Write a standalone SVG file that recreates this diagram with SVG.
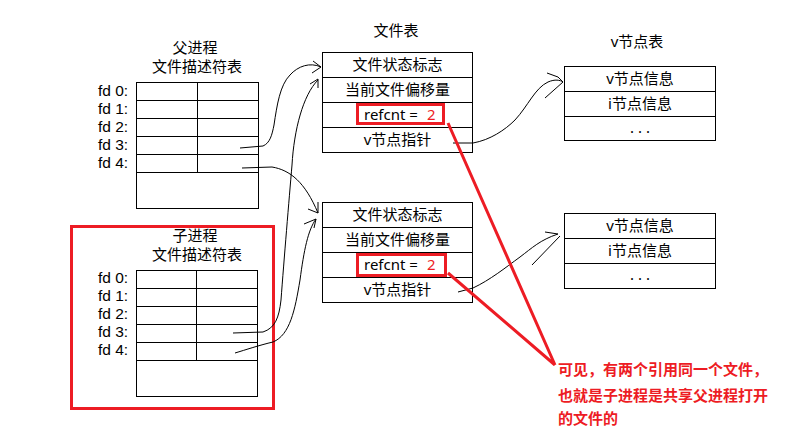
<svg xmlns="http://www.w3.org/2000/svg" width="787" height="442" viewBox="0 0 787 442">
<style>
.t{font-family:"Noto Sans","Noto Sans CJK SC",sans-serif;font-size:15px;fill:#000}
.c{text-anchor:middle}
.fd{font-family:"Liberation Sans",Arial,sans-serif;font-size:15.5px;fill:#000}
.box{fill:#fff;stroke:#000;stroke-width:1;shape-rendering:crispEdges}
.ln{stroke:#000;stroke-width:1;fill:none;shape-rendering:crispEdges}
.red{fill:none;stroke:#ED1C24;stroke-width:3}
.cv{fill:none;stroke:#000;stroke-width:1}
.rt{font-family:"Noto Sans CJK SC",sans-serif;font-size:15px;font-weight:bold;fill:#ED1C24}
</style>
<rect width="787" height="442" fill="#fff"/>

<g id="parent-fd-table">
<text class="t c" x="195" y="53">父进程</text>
<text class="t c" x="197" y="71.5">文件描述符表</text>
<rect class="box" x="136.5" y="82.5" width="121.5" height="125.5"/>
<path class="ln" d="M136.5,100.5H258M136.5,118.5H258M136.5,136.5H258M136.5,154.5H258M136.5,172.5H258M197.5,82.5V172.5"/>
<text class="fd" x="98" y="96">fd 0:</text>
<text class="fd" x="98" y="114">fd 1:</text>
<text class="fd" x="98" y="132">fd 2:</text>
<text class="fd" x="98" y="150">fd 3:</text>
<text class="fd" x="98" y="168">fd 4:</text>
</g>

<g id="child-fd-table">
<rect class="red" x="71.5" y="226.5" width="202" height="182"/>
<text class="t c" x="195" y="240.5">子进程</text>
<text class="t c" x="197" y="259.5">文件描述符表</text>
<rect class="box" x="136.5" y="270.5" width="120.5" height="125.5"/>
<path class="ln" d="M136.5,288.5H257M136.5,306.5H257M136.5,324.5H257M136.5,342.5H257M136.5,360.5H257M196.5,270.5V360.5"/>
<text class="fd" x="98" y="283">fd 0:</text>
<text class="fd" x="98" y="301">fd 1:</text>
<text class="fd" x="98" y="319">fd 2:</text>
<text class="fd" x="98" y="337">fd 3:</text>
<text class="fd" x="98" y="355">fd 4:</text>
</g>

<g id="file-table-1">
<text class="t c" x="396" y="35.5">文件表</text>
<rect class="box" x="322.5" y="52.5" width="150" height="100"/>
<path class="ln" d="M322.5,77.5H472.5M322.5,102.5H472.5M322.5,127.5H472.5"/>
<text class="t c" x="397.5" y="70">文件状态标志</text>
<text class="t c" x="397.5" y="95">当前文件偏移量</text>
<text class="t" x="364" y="120">refcnt =</text>
<text class="t" x="427" y="120" style="fill:#ED1C24">2</text>
<rect class="red" x="357.5" y="104.5" width="86" height="19"/>
<text class="t c" x="397.5" y="145">v节点指针</text>
</g>

<g id="file-table-2">
<rect class="box" x="322.5" y="202.5" width="150" height="100"/>
<path class="ln" d="M322.5,227.5H472.5M322.5,252.5H472.5M322.5,277.5H472.5"/>
<text class="t c" x="397.5" y="220">文件状态标志</text>
<text class="t c" x="397.5" y="245">当前文件偏移量</text>
<text class="t" x="364" y="270">refcnt =</text>
<text class="t" x="427" y="270" style="fill:#ED1C24">2</text>
<rect class="red" x="357.5" y="254.5" width="88" height="21"/>
<text class="t c" x="397.5" y="295">v节点指针</text>
</g>

<g id="vnode-table-1">
<text class="t c" x="637" y="47">v节点表</text>
<rect class="box" x="564.5" y="66.5" width="151" height="74"/>
<path class="ln" d="M564.5,91.5H715.5M564.5,116.5H715.5"/>
<text class="t c" x="640" y="84">v节点信息</text>
<text class="t c" x="640" y="109">i节点信息</text>
<text class="t c" x="640" y="133">. . .</text>
</g>

<g id="vnode-table-2">
<rect class="box" x="564.5" y="213.5" width="151" height="75"/>
<path class="ln" d="M564.5,238.5H715.5M564.5,263.5H715.5"/>
<text class="t c" x="640" y="231">v节点信息</text>
<text class="t c" x="640" y="256">i节点信息</text>
<text class="t c" x="640" y="280">. . .</text>
</g>

<g id="connectors">
<path class="cv" d="M240,148 L263,146 C270,143 272,135 274,125 C277,105 280,85 290,75 C298,66 310,62 321,67"/>
<path class="cv" d="M313,61 L321,67 M312,73 L321,67"/>
<path class="cv" d="M233,333 L263,332 C275,328 279,318 281,300 C284,260 289,200 292,165 C294,130 303,95 318,80"/>
<path class="cv" d="M310,84 L318,79 L318,88"/>
<path class="cv" d="M242,168 L272,167 C290,170 305,182 318,213"/>
<path class="cv" d="M308,209 L318,213 L318,202"/>
<path class="cv" d="M235,353 C245,350 260,345 273,342 C290,335 295,310 300,280 C304,250 308,230 316,219"/>
<path class="cv" d="M304,224 L316,219 L314,228"/>
<path class="cv" d="M453,143 L473,143 C490,140 505,130 515,120 C528,106 535,88 548,82 C555,79 560,80 563,82"/>
<path class="cv" d="M547,73 L558,77 L563,82 M545,98 L563,82"/>
<path class="cv" d="M458,292 L473,288 C490,280 505,268 520,257 C532,248 540,240 558,234"/>
<path class="cv" d="M545,232 L558,234 M532,265 L560,236"/>
<path class="red" d="M448,123 L555,365 M448,273 L555,365"/>
</g>

<g id="note">
<text class="rt" x="558" y="375">可见，有两个引用同一个文件，</text>
<text class="rt" x="558" y="401">也就是子进程是共享父进程打开</text>
<text class="rt" x="558" y="424">的文件的</text>
</g>
</svg>
